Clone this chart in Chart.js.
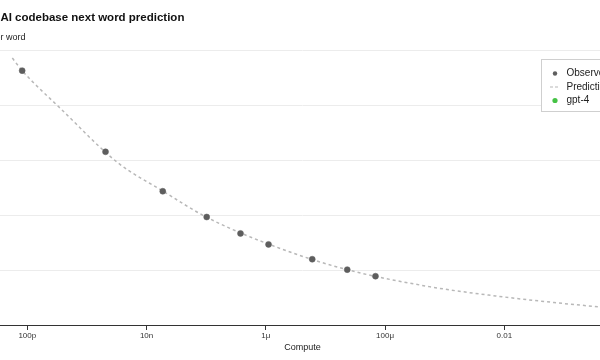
<!DOCTYPE html>
<html lang="en">
<head>
    <meta charset="UTF-8">
    <title>OpenAI codebase next word prediction</title>
    <script src="https://cdn.jsdelivr.net/npm/chart.js"></script>
    <style>
        html, body {
            margin: 0;
            padding: 0;
            width: 600px;
            height: 360px;
            overflow: hidden;
            background: #fff;
        }
        .chart-container {
            position: absolute;
            left: -27px;
            top: 0;
            width: 700px;
            height: 360px;
        }
    </style>
</head>
<body>
    <div class="chart-container">
        <canvas id="lossChart"></canvas>
    </div>
    <script>
        // compute is normalised so that gpt-4 = 1
        const observedCompute = [8.2e-11, 2.05e-9, 1.87e-8, 1.02e-7, 3.76e-7, 1.11e-6, 6.0e-6, 2.32e-5, 6.9e-5];
        const observedBits = [5.64, 4.16, 3.44, 2.97, 2.67, 2.47, 2.20, 2.01, 1.89];

        const predictionCompute = [5.6e-11, 8.2e-11, 3.6e-10, 3.3e-9, 1.9e-8, 1.0e-7, 1.7e-6, 2.3e-5, 5.5e-4, 0.012, 0.068, 0.38, 1];
        const predictionBits = [5.87, 5.64, 4.95, 3.96, 3.44, 2.97, 2.40, 2.01, 1.70, 1.50, 1.41, 1.33, 1.28];

        const gpt4Compute = [1];
        const gpt4Bits = [1.26];

        const xTickValues = [1e-10, 1e-8, 1e-6, 1e-4, 1e-2, 1];
        const xTickLabels = ['100p', '10n', '1\u03bc', '100\u03bc', '0.01', '1'];

        const FONT = '"Liberation Sans", Arial, Helvetica, sans-serif';
        const GREEN = '#45c245';
        const DOT = '#5e5e5e';
        const DASH = '#b8b8b8';

        // nudge the main title a little left of the subtitle
        const titleNudge = {
            id: 'titleNudge',
            afterLayout(chart) {
                if (chart.titleBlock) {
                    chart.titleBlock.left -= 2;
                    chart.titleBlock.right -= 2;
                }
            }
        };

        // legend sits inside the plot, in a thin grey box
        const boxLegend = {
            id: 'boxLegend',
            afterDraw(chart) {
                const ctx = chart.ctx;
                const area = chart.chartArea;
                const x = area.right - 86;
                const y = 59;
                ctx.save();
                ctx.fillStyle = '#fff';
                ctx.fillRect(x + 0.5, y + 0.5, 120, 52);
                ctx.strokeStyle = '#cfcfcf';
                ctx.lineWidth = 1;
                ctx.strokeRect(x + 0.5, y + 0.5, 120, 52);

                ctx.font = '10px ' + FONT;
                ctx.textBaseline = 'middle';
                const items = ['Observed', 'Prediction', 'gpt-4'];
                items.forEach((label, i) => {
                    const cy = y + 14.5 + i * 13.5;
                    if (i === 1) {
                        ctx.strokeStyle = DASH;
                        ctx.setLineDash([3, 2]);
                        ctx.lineWidth = 1.2;
                        ctx.beginPath();
                        ctx.moveTo(x + 9, cy);
                        ctx.lineTo(x + 19, cy);
                        ctx.stroke();
                        ctx.setLineDash([]);
                    } else {
                        ctx.fillStyle = i === 0 ? DOT : GREEN;
                        ctx.beginPath();
                        ctx.arc(x + 14, cy, i === 0 ? 2.2 : 2.6, 0, Math.PI * 2);
                        ctx.fill();
                    }
                    ctx.fillStyle = '#222';
                    ctx.fillText(label, x + 25.5, cy);
                });
                ctx.restore();
            }
        };

        const ctx = document.getElementById('lossChart').getContext('2d');
        const chart = new Chart(ctx, {
            type: 'line',
            data: {
                datasets: [
                    {
                        label: 'Prediction',
                        data: predictionCompute.map((c, i) => ({ x: c, y: predictionBits[i] })),
                        borderColor: DASH,
                        borderWidth: 1.5,
                        borderDash: [3, 3],
                        pointRadius: 0,
                        cubicInterpolationMode: 'monotone',
                        fill: false,
                        order: 2
                    },
                    {
                        label: 'Observed',
                        data: observedCompute.map((c, i) => ({ x: c, y: observedBits[i] })),
                        showLine: false,
                        pointRadius: 3,
                        pointBackgroundColor: DOT,
                        pointBorderColor: DOT,
                        pointBorderWidth: 0.5,
                        order: 1
                    },
                    {
                        label: 'gpt-4',
                        data: gpt4Compute.map((c, i) => ({ x: c, y: gpt4Bits[i] })),
                        showLine: false,
                        pointRadius: 3,
                        pointBackgroundColor: GREEN,
                        pointBorderColor: GREEN,
                        order: 0
                    }
                ]
            },
            options: {
                responsive: true,
                maintainAspectRatio: false,
                animation: false,
                layout: { padding: { left: 0, right: 46, top: 0, bottom: 0 } },
                plugins: {
                    legend: { display: false },
                    tooltip: { enabled: false },
                    title: {
                        display: true,
                        text: 'OpenAI codebase next word prediction',
                        align: 'start',
                        color: '#111',
                        font: { family: FONT, size: 11.5, weight: 'bold' },
                        padding: { top: 11, bottom: 7 }
                    },
                    subtitle: {
                        display: true,
                        text: 'Bits per word',
                        align: 'start',
                        color: '#222',
                        font: { family: FONT, size: 9 },
                        padding: { top: 0, bottom: 8.3 }
                    }
                },
                scales: {
                    x: {
                        type: 'logarithmic',
                        min: 1.49e-11,
                        max: 1.14,
                        afterBuildTicks: scale => {
                            scale.ticks = xTickValues.map(v => ({ value: v }));
                        },
                        afterFit: scale => { scale.height = 35; },
                        ticks: {
                            autoSkip: false,
                            maxRotation: 0,
                            padding: 1,
                            color: '#333',
                            font: { family: FONT, size: 8 },
                            callback: (value, index) => xTickLabels[index]
                        },
                        grid: {
                            drawOnChartArea: false,
                            drawTicks: true,
                            tickLength: 5,
                            color: '#333'
                        },
                        border: { display: true, color: '#333', width: 1 },
                        title: {
                            display: true,
                            text: 'Compute',
                            color: '#222',
                            font: { family: FONT, size: 9 },
                            padding: { top: 0, bottom: 6.6 }
                        }
                    },
                    y: {
                        type: 'linear',
                        min: 1,
                        max: 6,
                        // tick labels sit off the left edge of the view
                        afterFit: scale => { scale.width = 0; },
                        ticks: {
                            display: false,
                            stepSize: 1
                        },
                        grid: {
                            color: '#ececec',
                            drawTicks: false
                        },
                        border: { display: false }
                    }
                }
            },
            plugins: [titleNudge, boxLegend]
        });
    </script>
</body>
</html>
